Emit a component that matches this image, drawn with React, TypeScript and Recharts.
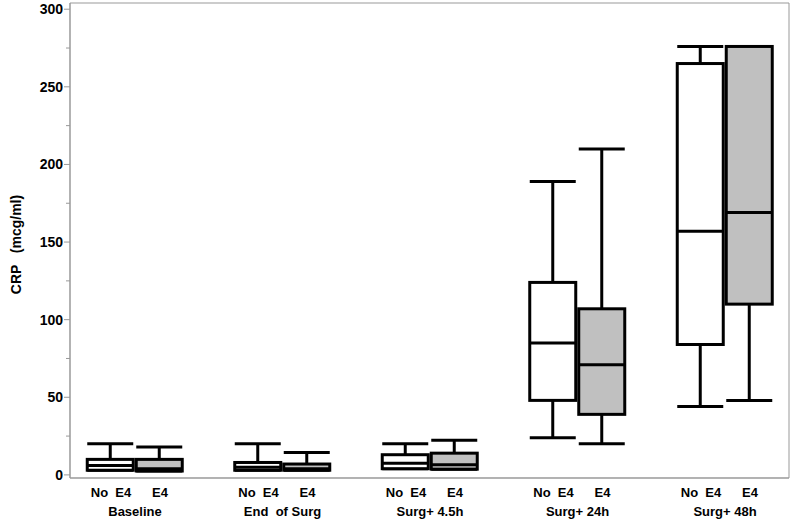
import React from 'react';
import { ComposedChart, Bar, XAxis, YAxis, ReferenceArea } from 'recharts';

const groups = ['Baseline', 'End  of Surg', 'Surg+ 4.5h', 'Surg+ 24h', 'Surg+ 48h'];
const positions = [1, 2, 3, 4, 5];
const subLabels = ['No  E4', 'E4'];

const noE4Min = [3, 3, 4, 24, 44];
const noE4Q1 = [3, 3, 4, 48, 84];
const noE4Median = [6, 5, 7.5, 85, 157];
const noE4Q3 = [10, 8, 13, 124, 265];
const noE4Max = [20, 20, 20, 189, 276];

const e4Min = [2.5, 3, 3.7, 20, 48];
const e4Q1 = [2.5, 3, 3.7, 39, 110];
const e4Median = [4, 4, 6.6, 71, 169];
const e4Q3 = [10, 7, 14, 107, 276];
const e4Max = [18, 14.5, 22.3, 210, 276];

const yTicks = [0, 25, 50, 75, 100, 125, 150, 175, 200, 225, 250, 275, 300];
const yDomain: [number, number] = [-2, 304];
const xDomain: [number, number] = [0.5593, 5.4339];

const data = groups.map((g, i) => ({
  name: g,
  pos: positions[i],
  noMin: noE4Min[i], noQ1: noE4Q1[i], noMed: noE4Median[i], noQ3: noE4Q3[i], noMax: noE4Max[i],
  e4Min: e4Min[i], e4Q1: e4Q1[i], e4Med: e4Median[i], e4Q3: e4Q3[i], e4Max: e4Max[i],
}));

const FONT = '"Liberation Sans", Arial, Helvetica, sans-serif';

const makeBox = (p: 'no' | 'e4', fill: string) => (props: any) => {
  const { x, y, width, height, payload } = props;
  if (x == null || y == null || !payload) return <g />;
  const mn = payload[p + 'Min'];
  const q1 = payload[p + 'Q1'];
  const md = payload[p + 'Med'];
  const q3 = payload[p + 'Q3'];
  const mx = payload[p + 'Max'];
  const pix = (v: number) => y + (height * (mx - v)) / (mx - mn);
  const cx = x + width / 2;
  const sw = 3;
  return (
    <g>
      <line x1={cx} x2={cx} y1={pix(mx)} y2={pix(q3)} stroke="#000" strokeWidth={sw} />
      <line x1={cx} x2={cx} y1={pix(q1)} y2={pix(mn)} stroke="#000" strokeWidth={sw} />
      <line x1={x} x2={x + width} y1={pix(mx)} y2={pix(mx)} stroke="#000" strokeWidth={sw} />
      <line x1={x} x2={x + width} y1={pix(mn)} y2={pix(mn)} stroke="#000" strokeWidth={sw} />
      <rect x={x} y={pix(q3)} width={width} height={pix(q1) - pix(q3)} fill={fill} stroke="#000" strokeWidth={sw} />
      <line x1={x} x2={x + width} y1={pix(md)} y2={pix(md)} stroke="#000" strokeWidth={sw} />
    </g>
  );
};

const YTick = (props: any) => {
  const { x, y, payload } = props;
  const v = payload.value;
  const major = v % 50 === 0;
  return (
    <g>
      <line x1={x} x2={x - (major ? 6 : 4)} y1={y} y2={y} stroke="#999" strokeWidth={1} />
      {major && (
        <text x={x - 7} y={y} dy="0.36em" textAnchor="end" fontSize={14} fontWeight="bold" fontFamily={FONT} fill="#000">
          {v}
        </text>
      )}
    </g>
  );
};

const XTick = (props: any) => {
  const { x, y, payload } = props;
  const idx = positions.indexOf(payload.value);
  if (idx < 0) return <g />;
  return (
    <g fontFamily={FONT} fontSize={13} fontWeight="bold" fill="#000" style={{ whiteSpace: 'pre' }}>
      <text x={x - 24} y={y + 19} textAnchor="middle" style={{ whiteSpace: 'pre' }}>{subLabels[0]}</text>
      <text x={x + 25} y={y + 19} textAnchor="middle" style={{ whiteSpace: 'pre' }}>{subLabels[1]}</text>
      <text x={x} y={y + 38} textAnchor="middle" style={{ whiteSpace: 'pre' }}>{groups[idx]}</text>
    </g>
  );
};

const YTitle = (props: any) => {
  const vb = props.viewBox || { x: 0, y: 0, width: 70, height: 475 };
  const cx = vb.x + 15.5;
  const cy = vb.y + vb.height / 2 + 4;
  return (
    <text
      x={cx}
      y={cy}
      transform={`rotate(-90, ${cx}, ${cy})`}
      textAnchor="middle"
      dominantBaseline="central"
      fontSize={14}
      fontWeight="bold"
      fontFamily={FONT}
      fill="#000"
      style={{ whiteSpace: 'pre' }}
    >
      {'CRP   (mcg/ml)'}
    </text>
  );
};

export default function App() {
  return (
    <div style={{ position: 'absolute', left: 0, top: 0, width: 800, height: 525, background: '#fff' }}>
      <ComposedChart
        width={800}
        height={525}
        data={data}
        margin={{ top: 3, right: 11, left: 0, bottom: 0 }}
        barSize={46}
        barGap={3}
      >
        <XAxis
          dataKey="pos"
          type="number"
          domain={xDomain}
          ticks={positions}
          allowDataOverflow
          height={47}
          tickSize={0}
          tickMargin={0}
          tickLine={false}
          axisLine={{ stroke: '#999' }}
          tick={<XTick />}
          interval={0}
        />
        <YAxis
          type="number"
          domain={yDomain}
          ticks={yTicks}
          allowDataOverflow
          width={70}
          tickSize={0}
          tickMargin={0}
          tickLine={false}
          axisLine={{ stroke: '#999' }}
          tick={<YTick />}
          interval={0}
          label={{ content: (p: any) => <YTitle {...p} /> }}
        />
        <ReferenceArea x1={xDomain[0]} x2={xDomain[1]} y1={yDomain[0]} y2={yDomain[1]} fill="none" stroke="#999" strokeWidth={1} ifOverflow="visible" />
        <Bar
          dataKey={(d: any) => [d.noMin, d.noMax]}
          isAnimationActive={false}
          shape={makeBox('no', '#ffffff')}
        />
        <Bar
          dataKey={(d: any) => [d.e4Min, d.e4Max]}
          isAnimationActive={false}
          shape={makeBox('e4', '#c0c0c0')}
        />
      </ComposedChart>
    </div>
  );
}
